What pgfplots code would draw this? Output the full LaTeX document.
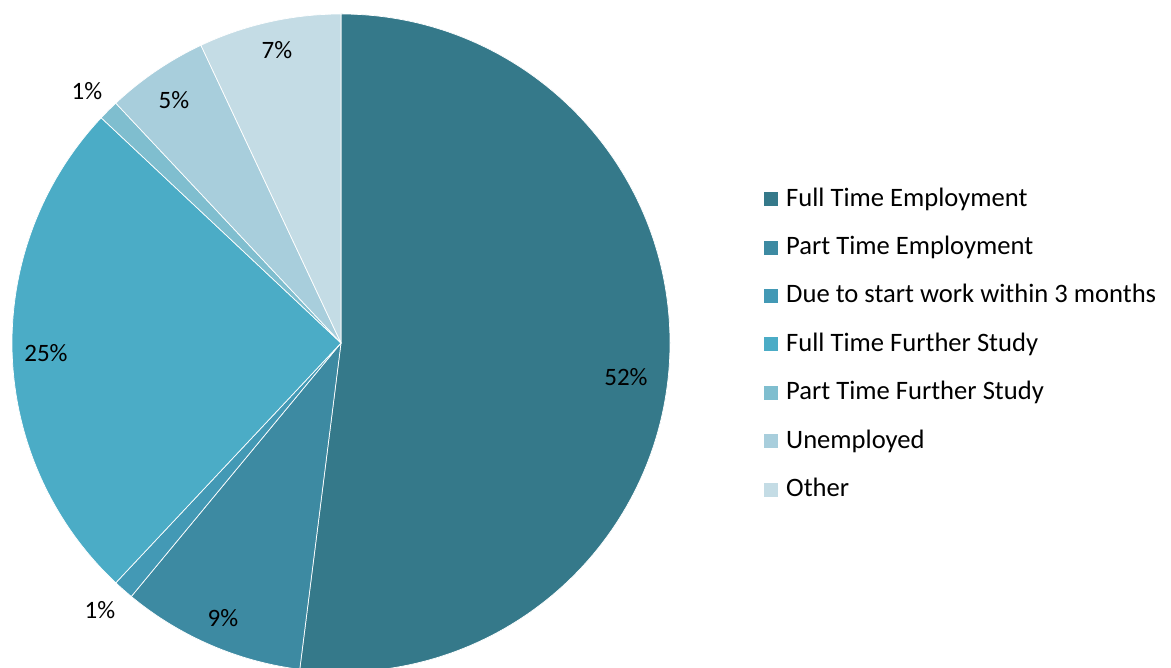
\documentclass[border=0pt]{standalone}
\usepackage{pgfplots}
\usepackage{pgfplotstable}
\pgfplotsset{compat=1.18}
\usepackage{fontspec}
\setmainfont{Carlito}
\definecolor{c0}{HTML}{35798A}
\definecolor{c1}{HTML}{3D8AA2}
\definecolor{c2}{HTML}{4399B5}
\definecolor{c3}{HTML}{4BACC6}
\definecolor{c4}{HTML}{7FBECF}
\definecolor{c5}{HTML}{A8CEDC}
\definecolor{c6}{HTML}{C4DCE5}
\pgfplotstableread{
idx value
0 52
1 9
2 1
3 25
4 1
5 5
6 7
}\piedata
\begin{document}
\begin{tikzpicture}
\xdef\cur{90}
\foreach \i in {0,...,6} {
  \pgfplotstablegetelem{\i}{value}\of\piedata
  \pgfmathsetmacro\e{\cur - 3.6*\pgfplotsretval}
  \expandafter\xdef\csname sa\i\endcsname{\cur}
  \expandafter\xdef\csname ea\i\endcsname{\e}
  \xdef\cur{\e}
}
\begin{axis}[
  name=ax,
  at={(0,0)}, anchor=south west,
  x=1pt, y=1pt,
  xmin=0, xmax=1171, ymin=0, ymax=668,
  hide axis,
  clip=true,
  legend cell align=left,
  legend style={
    at={(axis cs:764,479)}, anchor=north west,
    draw=none, fill=none, inner sep=0pt,
    font=\fontsize{26.6}{30}\selectfont,
    row sep=26.4pt,
    nodes={inner sep=0pt, text height=17pt, text depth=5pt},
    /tikz/every odd column/.append style={column sep=8pt},
  },
  sq/.style={legend image code/.code={\fill[##1, draw=none] (0pt,-6pt) rectangle (14pt,8pt);}},
]
\pgfplotsinvokeforeach{0,...,6}{
  \fill[c#1, draw=white, line width=0.7pt, line join=round]
    (axis cs:341,325) -- ++(\csname sa#1\endcsname:329pt)
    arc[start angle=\csname sa#1\endcsname, end angle=\csname ea#1\endcsname, radius=329pt] -- cycle;
}
\addlegendimage{sq, fill=c0}\addlegendentry{Full Time Employment}
\addlegendimage{sq, fill=c1}\addlegendentry{Part Time Employment}
\addlegendimage{sq, fill=c2}\addlegendentry{Due to start work within 3 months}
\addlegendimage{sq, fill=c3}\addlegendentry{Full Time Further Study}
\addlegendimage{sq, fill=c4}\addlegendentry{Part Time Further Study}
\addlegendimage{sq, fill=c5}\addlegendentry{Unemployed}
\addlegendimage{sq, fill=c6}\addlegendentry{Other}
\begin{scope}[every node/.style={font=\fontsize{25}{30}\selectfont, inner sep=0pt}]
\node at (axis cs:626,291) {52\%};
\node at (axis cs:223,50) {9\%};
\node at (axis cs:100,58) {1\%};
\node at (axis cs:46,315) {25\%};
\node at (axis cs:87,577) {1\%};
\node at (axis cs:174,568) {5\%};
\node at (axis cs:277,618) {7\%};
\end{scope}
\end{axis}
\pgfresetboundingbox
\path (ax.south west) rectangle (ax.north east);
\end{tikzpicture}
\end{document}
